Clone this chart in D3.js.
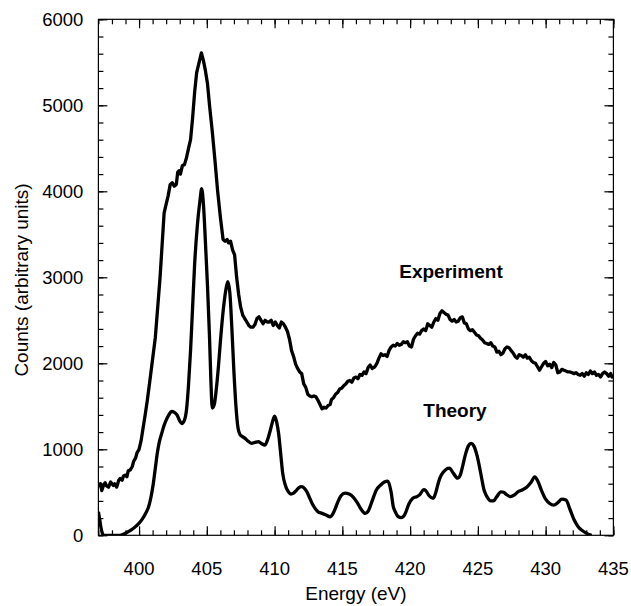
<!DOCTYPE html>
<html lang="en">

<head>
    <meta charset="UTF-8">
    <title>Energy spectrum</title>
    <script src="https://d3js.org/d3.v7.min.js"></script>
    <style>
        body { margin: 0; background: #fff; }
        text { font-family: "Liberation Sans", Arial, sans-serif; fill: #000; }
    </style>
</head>

<body>
    <svg width="631" height="606" class="block"></svg>
</body>

<script>
    // experiment (noisy measured spectrum)
    var expEnergy = [397.0, 397.15, 397.25, 397.4, 397.5, 397.6, 397.75, 397.9, 398.0, 398.1, 398.2, 398.35, 398.5, 398.6, 398.75, 398.85,
        399.0, 399.1, 399.2, 399.35, 399.5, 399.6, 399.75, 399.85, 400.0, 400.15, 400.3, 400.45, 400.6, 400.8, 401.0, 401.2, 401.4,
        401.55, 401.65, 401.75, 401.85, 402.0, 402.15, 402.3, 402.45, 402.6, 402.75, 402.85, 402.95, 403.05, 403.2, 403.35, 403.5,
        403.65, 403.8, 403.95, 404.1, 404.25, 404.4, 404.6, 404.75, 404.9, 405.05, 405.2, 405.4, 405.6, 405.8, 406.0, 406.2, 406.35,
        406.5, 406.6, 406.75, 406.9, 407.05, 407.2, 407.35, 407.5, 407.65, 407.8, 407.95, 408.1, 408.25, 408.4, 408.55, 408.7, 408.85,
        409.0, 409.15, 409.3, 409.45, 409.6, 409.75, 409.9, 410.05, 410.2, 410.35, 410.5, 410.65, 410.8, 410.95, 411.1, 411.25, 411.4,
        411.55, 411.7, 411.85, 412.0, 412.15, 412.3, 412.45, 412.6, 412.75, 412.9, 413.05, 413.2, 413.35, 413.5, 413.65, 413.8, 413.95,
        414.1, 414.2, 414.35, 414.5, 414.65, 414.8, 414.95, 415.1, 415.25, 415.4, 415.55, 415.7, 415.85, 416.0, 416.15, 416.3, 416.45,
        416.6, 416.75, 416.9, 417.05, 417.2, 417.4, 417.55, 417.7, 417.85, 418.0, 418.15, 418.3, 418.45, 418.6, 418.75, 418.9, 419.05,
        419.2, 419.35, 419.5, 419.65, 419.8, 419.95, 420.1, 420.25, 420.4, 420.55, 420.7, 420.85, 421.0, 421.15, 421.3, 421.45, 421.6,
        421.75, 421.9, 422.05, 422.2, 422.35, 422.5, 422.65, 422.8, 422.95, 423.1, 423.25, 423.4, 423.55, 423.7, 423.85, 424.0, 424.15,
        424.3, 424.45, 424.6, 424.75, 424.9, 425.05, 425.2, 425.35, 425.5, 425.65, 425.8, 425.95, 426.1, 426.25, 426.4, 426.55, 426.7,
        426.85, 427.0, 427.15, 427.3, 427.45, 427.6, 427.75, 427.9, 428.05, 428.2, 428.35, 428.5, 428.65, 428.8, 428.95, 429.1, 429.25,
        429.4, 429.55, 429.7, 429.85, 430.0, 430.15, 430.3, 430.45, 430.6, 430.75, 430.9, 431.05, 431.2, 431.35, 431.5, 431.65, 431.8,
        431.95, 432.1, 432.25, 432.4, 432.55, 432.7, 432.85, 433.0, 433.15, 433.3, 433.45, 433.6, 433.75, 433.9, 434.05, 434.2, 434.35,
        434.5, 434.65, 434.8, 434.9, 435.0];
    var expCounts = [565, 600, 520, 590, 610, 575, 560, 620, 600, 580, 600, 560, 640, 660, 640, 690,
        700, 680, 750, 760, 800, 860, 900, 960, 1000, 1100, 1250, 1400, 1560, 1800, 2050, 2300, 2700,
        3000, 3250, 3500, 3750, 3850, 3950, 4080, 4100, 4060, 4080, 4220, 4240, 4200, 4300, 4310, 4390,
        4500, 4600, 4850, 5150, 5380, 5480, 5610, 5520, 5400, 5250, 5000, 4700, 4360, 4000, 3700, 3440, 3420,
        3440, 3400, 3420, 3320, 3260, 3000, 2800, 2650, 2560, 2520, 2480, 2440, 2420, 2420, 2450, 2520, 2540,
        2500, 2460, 2500, 2480, 2480, 2500, 2440, 2480, 2440, 2410, 2480, 2460, 2420, 2370, 2280, 2150, 2080,
        1990, 1940, 1900, 1880, 1760, 1720, 1640, 1620, 1610, 1620, 1610, 1570, 1520, 1470, 1490, 1480, 1510,
        1520, 1580, 1600, 1640, 1660, 1700, 1710, 1740, 1760, 1790, 1800, 1780, 1830, 1840, 1820, 1870, 1860,
        1900, 1880, 1950, 1980, 1940, 1960, 2000, 2060, 2110, 2090, 2100, 2080, 2150, 2190, 2210, 2200, 2230,
        2210, 2220, 2250, 2240, 2250, 2200, 2190, 2280, 2320, 2350, 2340, 2380, 2400, 2380, 2460, 2440, 2420,
        2480, 2520, 2500, 2580, 2610, 2590, 2570, 2560, 2510, 2490, 2510, 2480, 2490, 2530, 2540, 2470, 2460,
        2400, 2380, 2390, 2360, 2330, 2320, 2290, 2270, 2240, 2230, 2220, 2240, 2200, 2190, 2130, 2140, 2100,
        2120, 2170, 2190, 2180, 2150, 2120, 2080, 2060, 2100, 2090, 2070, 2100, 2060, 2070, 2030, 2010, 2000,
        1960, 1920, 1960, 2000, 2020, 1970, 1990, 1950, 2010, 1980, 1890, 1900, 1930, 1920, 1910, 1900, 1900,
        1890, 1880, 1890, 1870, 1860, 1880, 1850, 1890, 1870, 1910, 1880, 1900, 1860, 1870, 1840, 1880, 1900,
        1880, 1850, 1880, 1840, 1860];

    // theory (smooth calculated spectrum)
    var theoryEnergy = [397.0, 397.1, 397.2, 397.3, 397.4, 398.0, 398.6, 398.8, 399.0, 399.4, 399.8, 400.2, 400.5, 400.7, 400.9,
        401.05, 401.2, 401.35, 401.5, 401.67, 401.85, 402.0, 402.2, 402.4, 402.6, 402.8, 403.0, 403.15, 403.35, 403.5, 403.65, 403.8,
        403.95, 404.1, 404.3, 404.5, 404.62, 404.75, 404.9, 405.05, 405.2, 405.3, 405.4, 405.55, 405.7, 405.85, 406.0, 406.2, 406.4,
        406.55, 406.7, 406.85, 407.0, 407.15, 407.3, 407.45, 407.6, 407.8, 408.0, 408.3, 408.55, 408.8, 409.0, 409.3, 409.5, 409.7,
        409.9, 410.0, 410.15, 410.3, 410.45, 410.6, 410.8, 411.0, 411.2, 411.4, 411.6, 411.8, 412.0, 412.2, 412.4, 412.6, 412.8, 413.0,
        413.2, 413.5, 413.8, 414.1, 414.3, 414.5, 414.7, 414.9, 415.2, 415.5, 415.8, 416.1, 416.4, 416.7, 416.9, 417.2, 417.5, 417.8,
        418.1, 418.35, 418.6, 418.75, 418.9, 419.1, 419.35, 419.6, 419.9, 420.2, 420.5, 420.7, 421.0, 421.15, 421.4, 421.7, 421.9,
        422.1, 422.3, 422.6, 422.9, 423.2, 423.5, 423.7, 423.9, 424.1, 424.3, 424.5, 424.7, 424.95, 425.2, 425.45, 425.7, 425.95,
        426.15, 426.4, 426.7, 426.9, 427.1, 427.4, 427.7, 428.0, 428.3, 428.6, 428.9, 429.2, 429.45, 429.7, 430.0, 430.3, 430.6,
        430.9, 431.2, 431.5, 431.8, 432.1, 432.4, 432.7, 433.0, 433.2, 433.4];
    var theoryCounts = [275, 180, 80, 20, 0, 0, 0, 10, 25, 60, 110, 180, 260, 330, 460,
        600, 780, 960, 1090, 1185, 1280, 1340, 1400, 1440, 1430, 1400, 1330, 1300, 1340, 1460, 1750, 2150,
        2650, 3150, 3600, 3900, 4030, 3850, 3400, 2900, 2300, 1800, 1480, 1520, 1700, 1950, 2250, 2600, 2850,
        2950, 2820, 2400, 1900, 1500, 1250, 1170, 1150, 1130, 1100, 1070, 1080, 1090, 1070, 1050, 1120, 1230,
        1350, 1385, 1320, 1180, 950, 720, 580, 510, 480, 490, 520, 555, 565, 545, 500, 430, 360, 310,
        275, 255, 235, 215, 250, 320, 400, 460, 490, 480, 445, 380, 300, 255, 280, 400, 525, 580,
        620, 630, 500, 340, 275, 220, 205, 240, 360, 430, 450, 470, 530, 520, 460, 430, 500,
        620, 700, 760, 780, 720, 665, 700, 820, 950, 1040, 1070, 1040, 920, 730, 530, 440, 400,
        400, 450, 505, 500, 475, 450, 470, 510, 530, 560, 610, 680, 620, 520, 420, 370, 350,
        380, 420, 410, 300, 180, 100, 55, 25, 8, 0];

    var xTicks = [400, 405, 410, 415, 420, 425, 430, 435];
    var yTicks = [0, 1000, 2000, 3000, 4000, 5000, 6000];

    var margin = { left: 98.4, top: 19.3, right: 631 - 613.4, bottom: 606 - 535.3 };
    var width = 631 - margin.left - margin.right;
    var height = 606 - margin.top - margin.bottom;

    var x = d3.scaleLinear().domain([397, 435]).range([0, width]);
    var y = d3.scaleLinear().domain([0, 6000]).range([height, 0]);

    var svg = d3.select('.block');
    var g = svg.append('g')
        .attr('transform', 'translate(' + margin.left + ',' + margin.top + ')');

    g.append('clipPath').attr('id', 'clip')
        .append('rect').attr('x', 0).attr('y', -2).attr('width', width).attr('height', height + 2);

    // ticks inward on all four sides, minor ones shorter
    var majorLen = 9, minorLen = 5;
    var xMinor = d3.range(397, 435.01, 1);
    var yMinor = d3.range(0, 6000.1, 200);

    function tickAxis(axisFn, scale, values, len, transform) {
        g.append('g')
            .attr('class', 'axis')
            .attr('transform', transform)
            .call(axisFn(scale).tickValues(values).tickSize(-len).tickFormat(''))
            .call(function (s) { s.select('.domain').remove(); });
    }
    tickAxis(d3.axisBottom, x, xMinor, minorLen, 'translate(0,' + height + ')');
    tickAxis(d3.axisBottom, x, xTicks, majorLen, 'translate(0,' + height + ')');
    tickAxis(d3.axisTop, x, xMinor, minorLen, 'translate(0,0)');
    tickAxis(d3.axisTop, x, xTicks, majorLen, 'translate(0,0)');
    tickAxis(d3.axisLeft, y, yMinor, minorLen, 'translate(0,0)');
    tickAxis(d3.axisLeft, y, yTicks, majorLen, 'translate(0,0)');
    tickAxis(d3.axisRight, y, yMinor, minorLen, 'translate(' + width + ',0)');
    tickAxis(d3.axisRight, y, yTicks, majorLen, 'translate(' + width + ',0)');
    g.selectAll('.axis line').attr('stroke', '#000').attr('stroke-width', 1.2);

    // frame
    g.append('rect')
        .attr('width', width).attr('height', height)
        .attr('fill', 'none').attr('stroke', '#000').attr('stroke-width', 1.2);

    // tick labels
    g.selectAll('.xlab')
        .data(xTicks)
        .enter()
        .append('text')
        .attr('x', function (d) { return x(d); })
        .attr('y', height + 40)
        .attr('text-anchor', 'middle')
        .style('font-size', '18.5px')
        .text(function (d) { return d; });

    g.selectAll('.ylab')
        .data(yTicks)
        .enter()
        .append('text')
        .attr('x', -15)
        .attr('y', function (d) { return y(d); })
        .attr('dy', '0.36em')
        .attr('text-anchor', 'end')
        .style('font-size', '18.5px')
        .text(function (d) { return d; });

    // axis titles
    svg.append('text')
        .attr('x', margin.left + width / 2)
        .attr('y', 600)
        .attr('text-anchor', 'middle')
        .style('font-size', '19px')
        .text('Energy (eV)');

    svg.append('text')
        .attr('transform', 'translate(28,280) rotate(-90)')
        .attr('text-anchor', 'middle')
        .style('font-size', '19px')
        .text('Counts (arbitrary units)');

    // curves
    var expLine = d3.line()
        .x(function (d, i) { return x(expEnergy[i]); })
        .y(function (d) { return y(d); });

    var theoryLine = d3.line()
        .curve(d3.curveMonotoneX)
        .x(function (d, i) { return x(theoryEnergy[i]); })
        .y(function (d) { return y(d); });

    g.append('path')
        .attr('clip-path', 'url(#clip)')
        .attr('d', expLine(expCounts))
        .attr('fill', 'none').attr('stroke', '#000')
        .attr('stroke-width', 3.3).attr('stroke-linejoin', 'round');

    g.append('path')
        .attr('clip-path', 'url(#clip)')
        .attr('d', theoryLine(theoryCounts))
        .attr('fill', 'none').attr('stroke', '#000')
        .attr('stroke-width', 3.3).attr('stroke-linejoin', 'round');

    // curve labels
    svg.append('text')
        .attr('x', 451).attr('y', 278)
        .attr('text-anchor', 'middle')
        .style('font-size', '19px').style('font-weight', 'bold')
        .text('Experiment');

    svg.append('text')
        .attr('x', 455).attr('y', 417)
        .attr('text-anchor', 'middle')
        .style('font-size', '19px').style('font-weight', 'bold')
        .text('Theory');
</script>

</html>
